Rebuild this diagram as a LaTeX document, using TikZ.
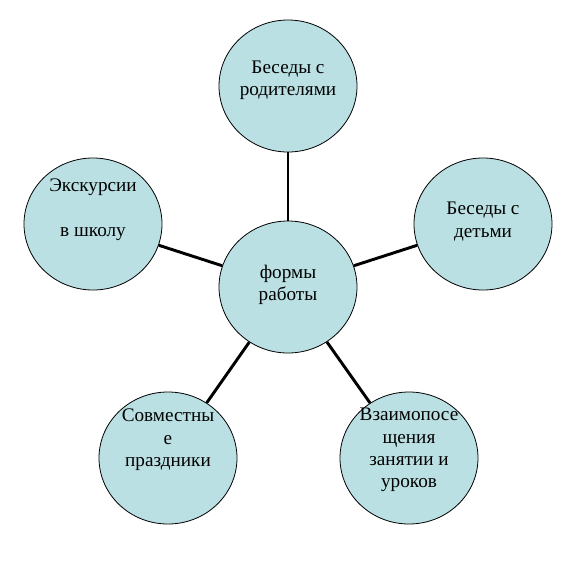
\documentclass[tikz,border=0pt]{standalone}
\usepackage{fontspec}
\setmainfont{Liberation Serif}
\newfontfamily\formfont{Liberation Serif}
\definecolor{formfill}{RGB}{187, 224, 227}
\usetikzlibrary{
  positioning,
  shapes.geometric,
}
\tikzset{
  formbox/.style={ellipse, draw=black, line width=0.6pt, fill=formfill,
    inner sep=0pt, minimum width=103.5pt, minimum height=99pt},
  formtext/.style={align=center, inner sep=0pt,
    font=\formfont\fontsize{14.4}{16.8}\selectfont},
  link/.style={line width=2.2pt, black},
}

\begin{document}
\begin{tikzpicture}[x=0.75pt, y=-0.75pt]
      \useasboundingbox (0,0) rectangle (576,576);
      % circles
      \node [formbox] at (288, 287) (forms) {};
      \node [formbox] at (288, 86) (parents) {};
      \node [formbox] at (483, 224) (children) {};
      \node [formbox] at (93, 224) (trips) {};
      \node [formbox] at (168, 458) (holidays) {};
      \node [formbox] at (409, 458) (visits) {};
      % connectors
      \draw [link] (forms) -- (parents);
      \draw [link] (forms) -- (children);
      \draw [link] (forms) -- (trips);
      \draw [link] (forms) -- (holidays);
      \draw [link] (forms) -- (visits);
      % texts
      \node [formtext] at (288, 285) (formslabel) {формы\\работы};
      \node [formtext] at (288, 80) (parentslabel) {Беседы с\\родителями};
      \node [formtext] at (483, 221.5) (childrenlabel) {Беседы с\\детьми};
      \node [formtext] at (93, 210) (tripslabel) {Экскурсии\\[16.8pt]в школу};
      \node [formtext] at (168, 440) (holidayslabel) {Совместны\\е\\праздники};
      \node [formtext] at (409, 450) (visitslabel) {Взаимопосе\\щения\\занятии и\\уроков};
    \end{tikzpicture}
\end{document}
